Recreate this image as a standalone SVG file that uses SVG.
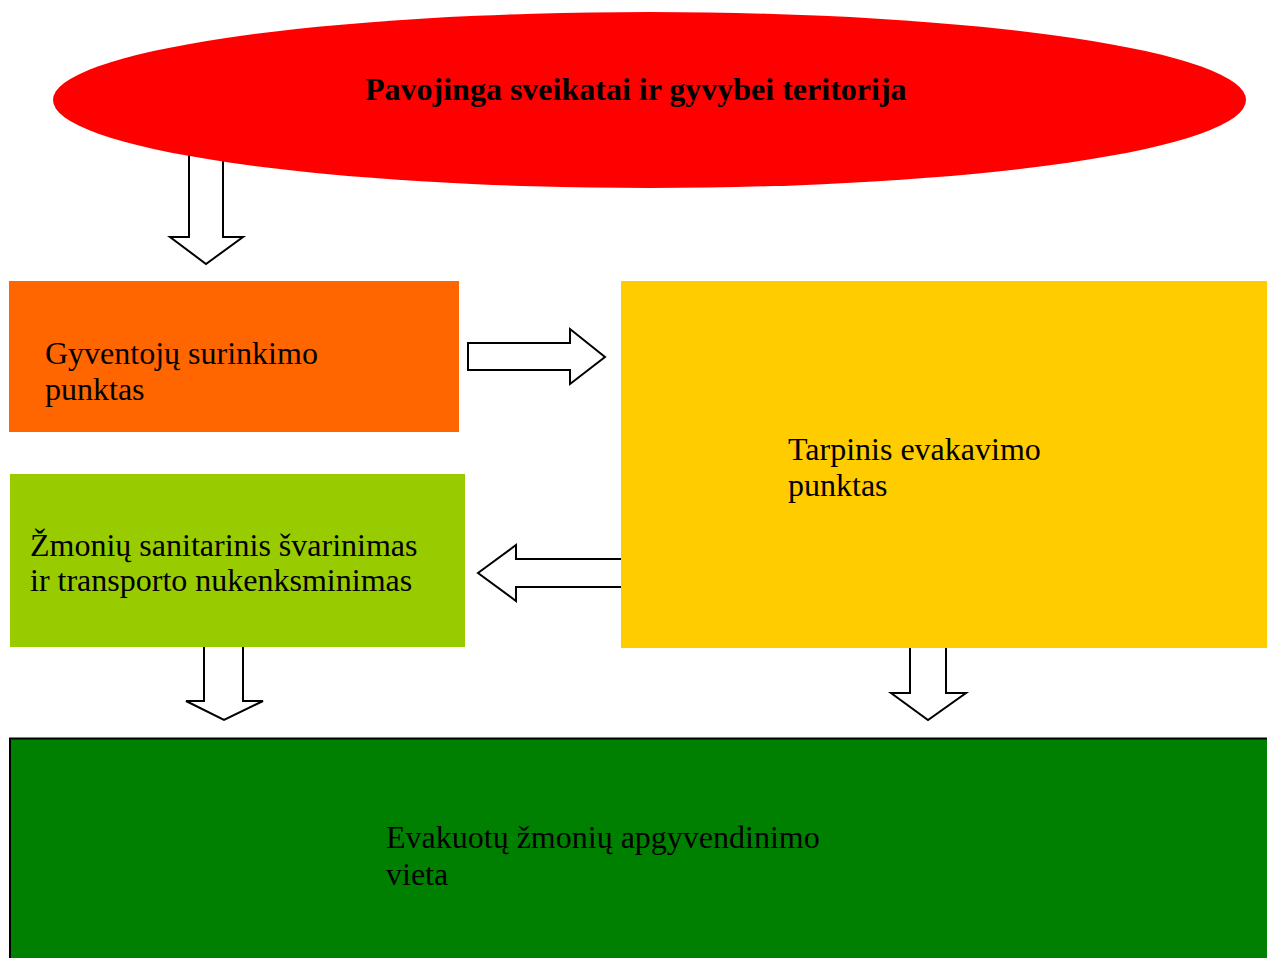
<svg xmlns="http://www.w3.org/2000/svg" width="1267" height="958" viewBox="0 0 1267 958">
<style>
.t{font-family:"Liberation Serif","Times New Roman",serif;font-size:32px;fill:#000}
.tb{font-family:"Liberation Serif","Times New Roman",serif;font-size:32px;font-weight:bold;fill:#000}
.ar{fill:#fff;stroke:#000;stroke-width:2;stroke-linejoin:miter}
</style>
<rect width="1267" height="958" fill="#fff"/>
<g id="connectors">
<polygon class="ar" points="189,150 223,150 223,237 243,237 206,264 170,237 189,237"/>
<polygon class="ar" points="468,343 570,343 570,329 605,357 570,384 570,370 468,370"/>
<polygon class="ar" points="630,559 516,559 516,545 478,573 516,601 516,587 630,587"/>
<polygon class="ar" points="204,640 243,640 243,701 263,701 224,720 186,701 204,701"/>
<polygon class="ar" points="910,640 946,640 946,693 966,693 928,720 891,693 910,693"/>
</g>
<g id="n-hazard">
<ellipse cx="649.5" cy="100" rx="596.5" ry="88" fill="#ff0000"/>
<text class="tb" x="365" y="100">Pavojinga sveikatai ir gyvybei teritorija</text>
</g>
<g id="n-collect">
<rect x="9" y="281" width="450" height="151" fill="#ff6600"/>
<text class="t" x="45" y="364">Gyventojų surinkimo</text>
<text class="t" x="45" y="400">punktas</text>
</g>
<g id="n-interim">
<rect x="621" y="281" width="646" height="367" fill="#ffcc00"/>
<text class="t" x="788" y="460">Tarpinis evakavimo</text>
<text class="t" x="788" y="496">punktas</text>
</g>
<g id="n-sanit">
<rect x="10" y="474" width="455" height="173" fill="#99cc00"/>
<text class="t" x="30" y="556">Žmonių sanitarinis švarinimas</text>
<text class="t" x="30" y="591">ir transporto nukenksminimas</text>
</g>
<g id="n-accom">
<rect x="10" y="738.5" width="1270" height="230" fill="#008000" stroke="#000" stroke-width="2"/>
<text class="t" x="386" y="848">Evakuotų žmonių apgyvendinimo</text>
<text class="t" x="386" y="885">vieta</text>
</g>
</svg>
